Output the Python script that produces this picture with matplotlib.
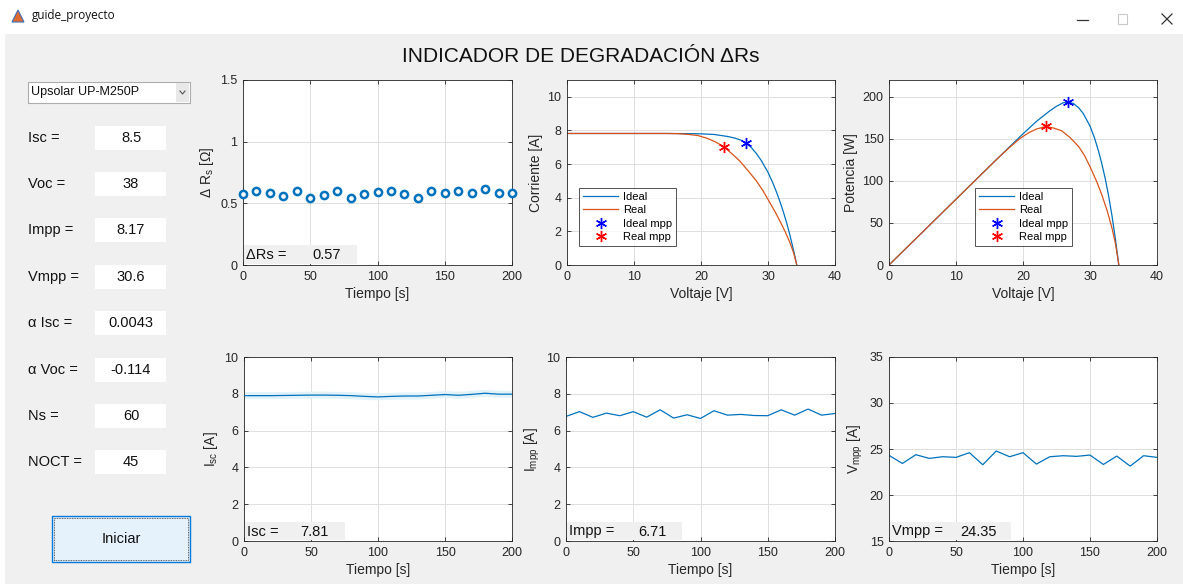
import matplotlib
matplotlib.use("Agg")
import matplotlib.pyplot as plt
from matplotlib.patches import Rectangle, Polygon
from matplotlib.lines import Line2D
from matplotlib.ticker import FuncFormatter

plt.rcParams["font.family"] = ["Liberation Sans", "DejaVu Sans"]
plt.rcParams["mathtext.default"] = "regular"

W, H = 1183, 584

# time axis of the monitoring plots
tiempo = list(range(0, 201, 10))

delta_rs = [0.573, 0.603, 0.586, 0.562, 0.603, 0.541, 0.570, 0.597, 0.543, 0.578, 0.589,
            0.597, 0.578, 0.541, 0.597, 0.586, 0.603, 0.586, 0.616, 0.586, 0.586]

isc_t = [7.90, 7.90, 7.90, 7.91, 7.92, 7.93, 7.93, 7.92, 7.90, 7.86, 7.83,
         7.86, 7.88, 7.88, 7.92, 7.96, 7.92, 7.97, 8.03, 7.98, 7.98]

impp_t = [6.77, 7.03, 6.72, 6.95, 6.81, 7.03, 6.73, 7.13, 6.68, 6.86, 6.66,
          7.08, 6.84, 6.88, 6.82, 6.81, 7.13, 6.84, 7.17, 6.84, 6.93]

vmpp_t = [24.31, 23.43, 24.38, 23.98, 24.16, 24.09, 24.60, 23.29, 24.78, 24.16, 24.60,
          23.36, 24.16, 24.27, 24.20, 24.34, 23.32, 24.23, 23.14, 24.27, 24.09]

# I-V curves
v_ideal = [0, 5, 10, 15, 18, 20, 22, 24, 25, 26, 26.7, 27.5, 28.3, 29, 30,
           30.7, 31.3, 31.8, 32.3, 32.8, 33.3, 33.8, 34.3]
i_ideal = [7.82, 7.82, 7.82, 7.82, 7.81, 7.80, 7.76, 7.64, 7.55, 7.42, 7.25, 6.99, 6.61,
           6.21, 5.51, 4.90, 4.30, 3.75, 3.15, 2.48, 1.73, 0.90, 0.0]

v_real = [0, 5, 10, 15, 16.5, 18, 19.5, 20.8, 22, 23.4, 24.6, 25.8, 27, 28.3, 29.2,
          30, 31, 31.8, 32.6, 33.3, 33.8, 34.3]
i_real = [7.82, 7.82, 7.82, 7.82, 7.81, 7.77, 7.70, 7.55, 7.35, 7.04, 6.62, 6.18, 5.62,
          4.98, 4.45, 3.90, 3.20, 2.60, 1.95, 1.30, 0.75, 0.0]

mpp_ideal = (26.7, 7.25)
mpp_real = (23.4, 7.04)

p_ideal = [v * i for v, i in zip(v_ideal, i_ideal)]
p_real = [v * i for v, i in zip(v_real, i_real)]

# module parameters shown on the left panel
param_labels = ["Isc =", "Voc =", "Impp =", "Vmpp =", "α Isc =", "α Voc =", "Ns =", "NOCT ="]
param_values = ["8.5", "38", "8.17", "30.6", "0.0043", "-0.114", "60", "45"]
param_rows = [138, 184, 230, 277, 323, 370, 416, 462]

readouts = [("ΔRs =", "0.57"), ("Isc =", "7.81"), ("Impp =", "6.71"), ("Vmpp =", "24.35")]

BLUE = "#0072BD"
ORANGE = "#D95319"
AXC = "#262626"
PANEL = "#f0f0f0"


def rect(l, t, r, b):
    return [l / W, 1 - b / H, (r - l) / W, (b - t) / H]


def fx(x):
    return x / W


def fy(y):
    return 1 - y / H


def box(l, t, r, b, fc, ec="none", lw=0.8, z=5, ls="-"):
    p = Rectangle((fx(l), fy(b)), (r - l) / W, (b - t) / H, transform=fig.transFigure,
                  facecolor=fc, edgecolor=ec, linewidth=lw, zorder=z, linestyle=ls)
    fig.add_artist(p)


fig = plt.figure(figsize=(W / 100, H / 100), dpi=100, facecolor="white")

# window frame
box(5, 34, W, H, PANEL, z=0)
fig.add_artist(Polygon([(fx(12), fy(22)), (fx(18), fy(10)), (fx(24), fy(22))],
                       closed=True, transform=fig.transFigure, facecolor="#e0692f",
                       edgecolor="#3b6fb6", linewidth=0.8, zorder=1))
fig.text(fx(32), fy(16), "guide_proyecto", fontsize=8.5, family=["Open Sans", "DejaVu Sans"],
         va="center", ha="left", color="#111111")
fig.add_artist(Line2D([fx(1077), fx(1088)], [fy(20), fy(20)], transform=fig.transFigure,
                      color="#333333", lw=0.9))
box(1118, 14, 1127, 24, "none", ec="#c8c8c8", lw=0.8, z=1)
fig.add_artist(Line2D([fx(1162), fx(1172)], [fy(14), fy(24)], transform=fig.transFigure,
                      color="#333333", lw=0.9))
fig.add_artist(Line2D([fx(1162), fx(1172)], [fy(24), fy(14)], transform=fig.transFigure,
                      color="#333333", lw=0.9))

fig.text(fx(581), fy(57), "INDICADOR DE DEGRADACIÓN ΔRs", fontsize=15, ha="center",
         va="center", color="#111111")

# left panel
box(28, 82, 190, 103, "white", ec="#adadad", lw=0.8, z=1)
box(176, 83, 189, 102, "#e8e8e8", z=1)
fig.text(fx(31), fy(92.5), "Upsolar UP-M250P", fontsize=9, va="center", ha="left", color="#111111")
fig.add_artist(Line2D([fx(180), fx(182.5), fx(185)], [fy(91), fy(94), fy(91)],
                      transform=fig.transFigure, color="#555555", lw=0.8))

for lab, val, yc in zip(param_labels, param_values, param_rows):
    fig.text(fx(28), fy(yc), lab, fontsize=10.5, va="center", ha="left", color="#111111")
    box(95, yc - 12, 166, yc + 12, "white", z=1)
    fig.text(fx(131), fy(yc), val, fontsize=10.5, va="center", ha="center", color="#111111")

box(52, 516, 190, 562, "#e5f1fb", ec="#0078d7", lw=1.0, z=1)
box(54, 518, 188, 560, "none", ec="#333333", lw=0.6, z=1, ls=(0, (1, 1)))
fig.text(fx(121), fy(539), "Iniciar", fontsize=10.5, va="center", ha="center", color="#111111")


def style(ax, xlim, ylim, xticks, yticks):
    ax.set_xlim(*xlim)
    ax.set_ylim(*ylim)
    ax.set_xticks(xticks)
    ax.set_yticks(yticks)
    ax.grid(True, color="#dedede", linewidth=0.7)
    ax.set_axisbelow(True)
    ax.tick_params(direction="in", top=True, right=True, length=3, width=0.6,
                   labelsize=9, colors=AXC, pad=4)
    for s in ax.spines.values():
        s.set_color(AXC)
        s.set_linewidth(0.6)
    fmt = FuncFormatter(lambda v, p: "%g" % v)
    ax.xaxis.set_major_formatter(fmt)
    ax.yaxis.set_major_formatter(fmt)


lab_kw = dict(fontsize=10, color=AXC)

# delta Rs over time
ax1 = fig.add_axes(rect(243, 80, 512, 265))
ax1.plot(tiempo, delta_rs, "o", color=BLUE, mfc="white", ms=5.2, mew=1.8, clip_on=False, zorder=3)
style(ax1, (0, 200), (0, 1.5), range(0, 201, 50), [0, 0.5, 1, 1.5])
ax1.set_xlabel("Tiempo [s]", labelpad=3, **lab_kw)
ax1.set_ylabel("Δ R$_s$ [Ω]", labelpad=3, **lab_kw)

# I-V curve
ax2 = fig.add_axes(rect(567, 80, 835, 265))
ax2.plot(v_ideal, i_ideal, color=BLUE, lw=0.9, label="Ideal")
ax2.plot(v_real, i_real, color=ORANGE, lw=0.9, label="Real")
ax2.plot(*mpp_ideal, marker=(6, 2, 0), color="#0000ff", ms=8, mew=1.0, ls="none", label="Ideal mpp")
ax2.plot(*mpp_real, marker=(6, 2, 0), color="#ff0000", ms=8, mew=1.0, ls="none", label="Real mpp")
style(ax2, (0, 40), (0, 11), range(0, 41, 10), range(0, 11, 2))
ax2.set_xlabel("Voltaje [V]", labelpad=3, **lab_kw)
ax2.set_ylabel("Corriente [A]", labelpad=3, **lab_kw)

# P-V curve
ax3 = fig.add_axes(rect(889, 80, 1157, 265))
ax3.plot(v_ideal, p_ideal, color=BLUE, lw=0.9, label="Ideal")
ax3.plot(v_real, p_real, color=ORANGE, lw=0.9, label="Real")
ax3.plot(mpp_ideal[0], mpp_ideal[0] * mpp_ideal[1], marker=(6, 2, 0), color="#0000ff", ms=8,
         mew=1.0, ls="none", label="Ideal mpp")
ax3.plot(mpp_real[0], mpp_real[0] * mpp_real[1], marker=(6, 2, 0), color="#ff0000", ms=8,
         mew=1.0, ls="none", label="Real mpp")
style(ax3, (0, 40), (0, 220), range(0, 41, 10), range(0, 201, 50))
ax3.set_xlabel("Voltaje [V]", labelpad=3, **lab_kw)
ax3.set_ylabel("Potencia [W]", labelpad=3, **lab_kw)

for ax, (l, t) in [(ax2, (579, 188)), (ax3, (975, 188))]:
    leg = ax.legend(loc="upper left", bbox_to_anchor=(fx(l), fy(t)),
                    bbox_transform=fig.transFigure, fontsize=8, frameon=True, fancybox=False,
                    handlelength=3.2, handletextpad=0.4, labelspacing=0.3, borderpad=0.35,
                    borderaxespad=0)
    leg.get_frame().set_edgecolor(AXC)
    leg.get_frame().set_linewidth(0.7)

# Isc, Impp and Vmpp over time
ax4 = fig.add_axes(rect(244, 357, 512, 541))
ax4.plot(tiempo, isc_t, color="#e2f2f9", lw=5, solid_capstyle="butt", zorder=2)
ax4.plot(tiempo, isc_t, color=BLUE, lw=0.9, zorder=3)
style(ax4, (0, 200), (0, 10), range(0, 201, 50), range(0, 11, 2))
ax4.set_xlabel("Tiempo [s]", labelpad=3, **lab_kw)
ax4.set_ylabel("I$_{sc}$ [A]", labelpad=3, **lab_kw)

ax5 = fig.add_axes(rect(566, 357, 835, 541))
ax5.plot(tiempo, impp_t, color=BLUE, lw=0.9)
style(ax5, (0, 200), (0, 10), range(0, 201, 50), range(0, 11, 2))
ax5.set_xlabel("Tiempo [s]", labelpad=3, **lab_kw)
ax5.set_ylabel("I$_{mpp}$ [A]", labelpad=3, **lab_kw)

ax6 = fig.add_axes(rect(889, 357, 1157, 541))
ax6.plot(tiempo, vmpp_t, color=BLUE, lw=0.9)
style(ax6, (0, 200), (15, 35), range(0, 201, 50), range(15, 36, 5))
ax6.set_xlabel("Tiempo [s]", labelpad=3, **lab_kw)
ax6.set_ylabel("V$_{mpp}$ [A]", labelpad=3, **lab_kw)

# value readouts sitting on the lower-left corner of each time plot
readout_boxes = [(243, 245, 357, 265, 312), (244, 522, 345, 541, 300),
                 (566, 522, 682, 541, 638), (889, 522, 1011, 541, 960)]
for (name, val), (l, t, r, b, xv) in zip(readouts, readout_boxes):
    box(l + 1, t, r, b - 1, PANEL, z=10)
    fig.text(fx(l + 3), fy((t + b) / 2), name, fontsize=10.5, va="center", ha="left",
             color="#111111", zorder=11)
    fig.text(fx(xv), fy((t + b) / 2), val, fontsize=10.5, va="center", ha="left",
             color="#111111", zorder=11)

fig.savefig("out.png", dpi=100, facecolor=fig.get_facecolor())
